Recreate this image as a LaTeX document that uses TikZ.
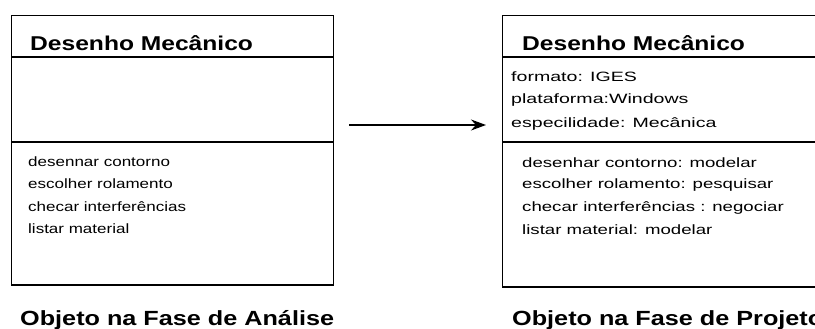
\documentclass[tikz,border=0pt]{standalone}
\usepackage{fontspec}
\setmainfont{Liberation Sans}
\newfontfamily\headfont[FakeStretch=1.23]{Liberation Sans Bold}
\newfontfamily\bodyfont[FakeStretch=1.38]{Liberation Sans}
\newfontfamily\narrowbodyfont[FakeStretch=1.26]{Liberation Sans}
\newfontfamily\widebodyfont[FakeStretch=1.45]{Liberation Sans}
\usetikzlibrary{arrows.meta}
\begin{document}
\begin{tikzpicture}[x=1pt,y=-1pt,
  classbox/.style={draw, line width=1.3pt, rectangle, anchor=north west, inner sep=0pt},
  divider/.style={line width=1.2pt},
  title/.style={anchor=west, inner sep=0pt, font=\headfont\fontsize{20}{24}\selectfont},
  member/.style={anchor=west, inner sep=0pt, font=\bodyfont\fontsize{13.5}{16}\selectfont},
  operation/.style={member, font=\narrowbodyfont\fontsize{13.5}{16}\selectfont},
  attribute/.style={member, font=\widebodyfont\fontsize{13.5}{16}\selectfont},
  caption/.style={anchor=west, inner sep=0pt, font=\headfont\fontsize{20.5}{24}\selectfont},
  link/.style={line width=1.2pt, -{Stealth[length=15pt,width=11pt]}}]
\clip (0,0) rectangle (815,329);
\fill[white] (0,0) rectangle (815,329);

% analysis-phase object
\node[classbox, minimum width=322pt, minimum height=270pt] (lbox) at (11,15) {};
\draw[divider] (11,57) -- (333,57);
\draw[divider] (11,142) -- (333,142);
\draw[line width=2pt] (11,285) -- (333,285);
\node[title] (ltitle) at (30,43) {Desenho Mecânico};
\node[operation] (lop1) at (28,162) {desennar contorno};
\node[operation] (lop2) at (28,184) {escolher rolamento};
\node[operation] (lop3) at (28,207) {checar interferências};
\node[operation] (lop4) at (28,229) {listar material};
\node[caption] (lcap) at (20,320) {Objeto na Fase de Análise};

% design-phase object (runs past the right edge)
\node[classbox, minimum width=340pt, minimum height=272pt] (rbox) at (502,15) {};
\draw[divider] (502,57) -- (842,57);
\draw[divider] (502,142) -- (842,142);
\draw[line width=2pt] (502,287) -- (842,287);
\node[title] (rtitle) at (522,43) {Desenho Mecânico};
\node[attribute] (ratt1) at (511,77) {formato: IGES};
\node[attribute] (ratt2) at (511,100) {plataforma:Windows};
\node[attribute] (ratt3) at (511,124) {especilidade: Mecânica};
\node[member] (rop1) at (522,163) {desenhar contorno: modelar};
\node[member] (rop2) at (522,185) {escolher rolamento: pesquisar};
\node[member] (rop3) at (522,208) {checar interferências : negociar};
\node[member] (rop4) at (522,230) {listar material: modelar};
\node[caption] (rcap) at (512,320) {Objeto na Fase de Projeto};

% refinement arrow between the two objects
\coordinate (tail) at (349,125);
\coordinate (tip) at (486,125);
\draw[link] (tail) -- (tip);
\end{tikzpicture}
\end{document}
